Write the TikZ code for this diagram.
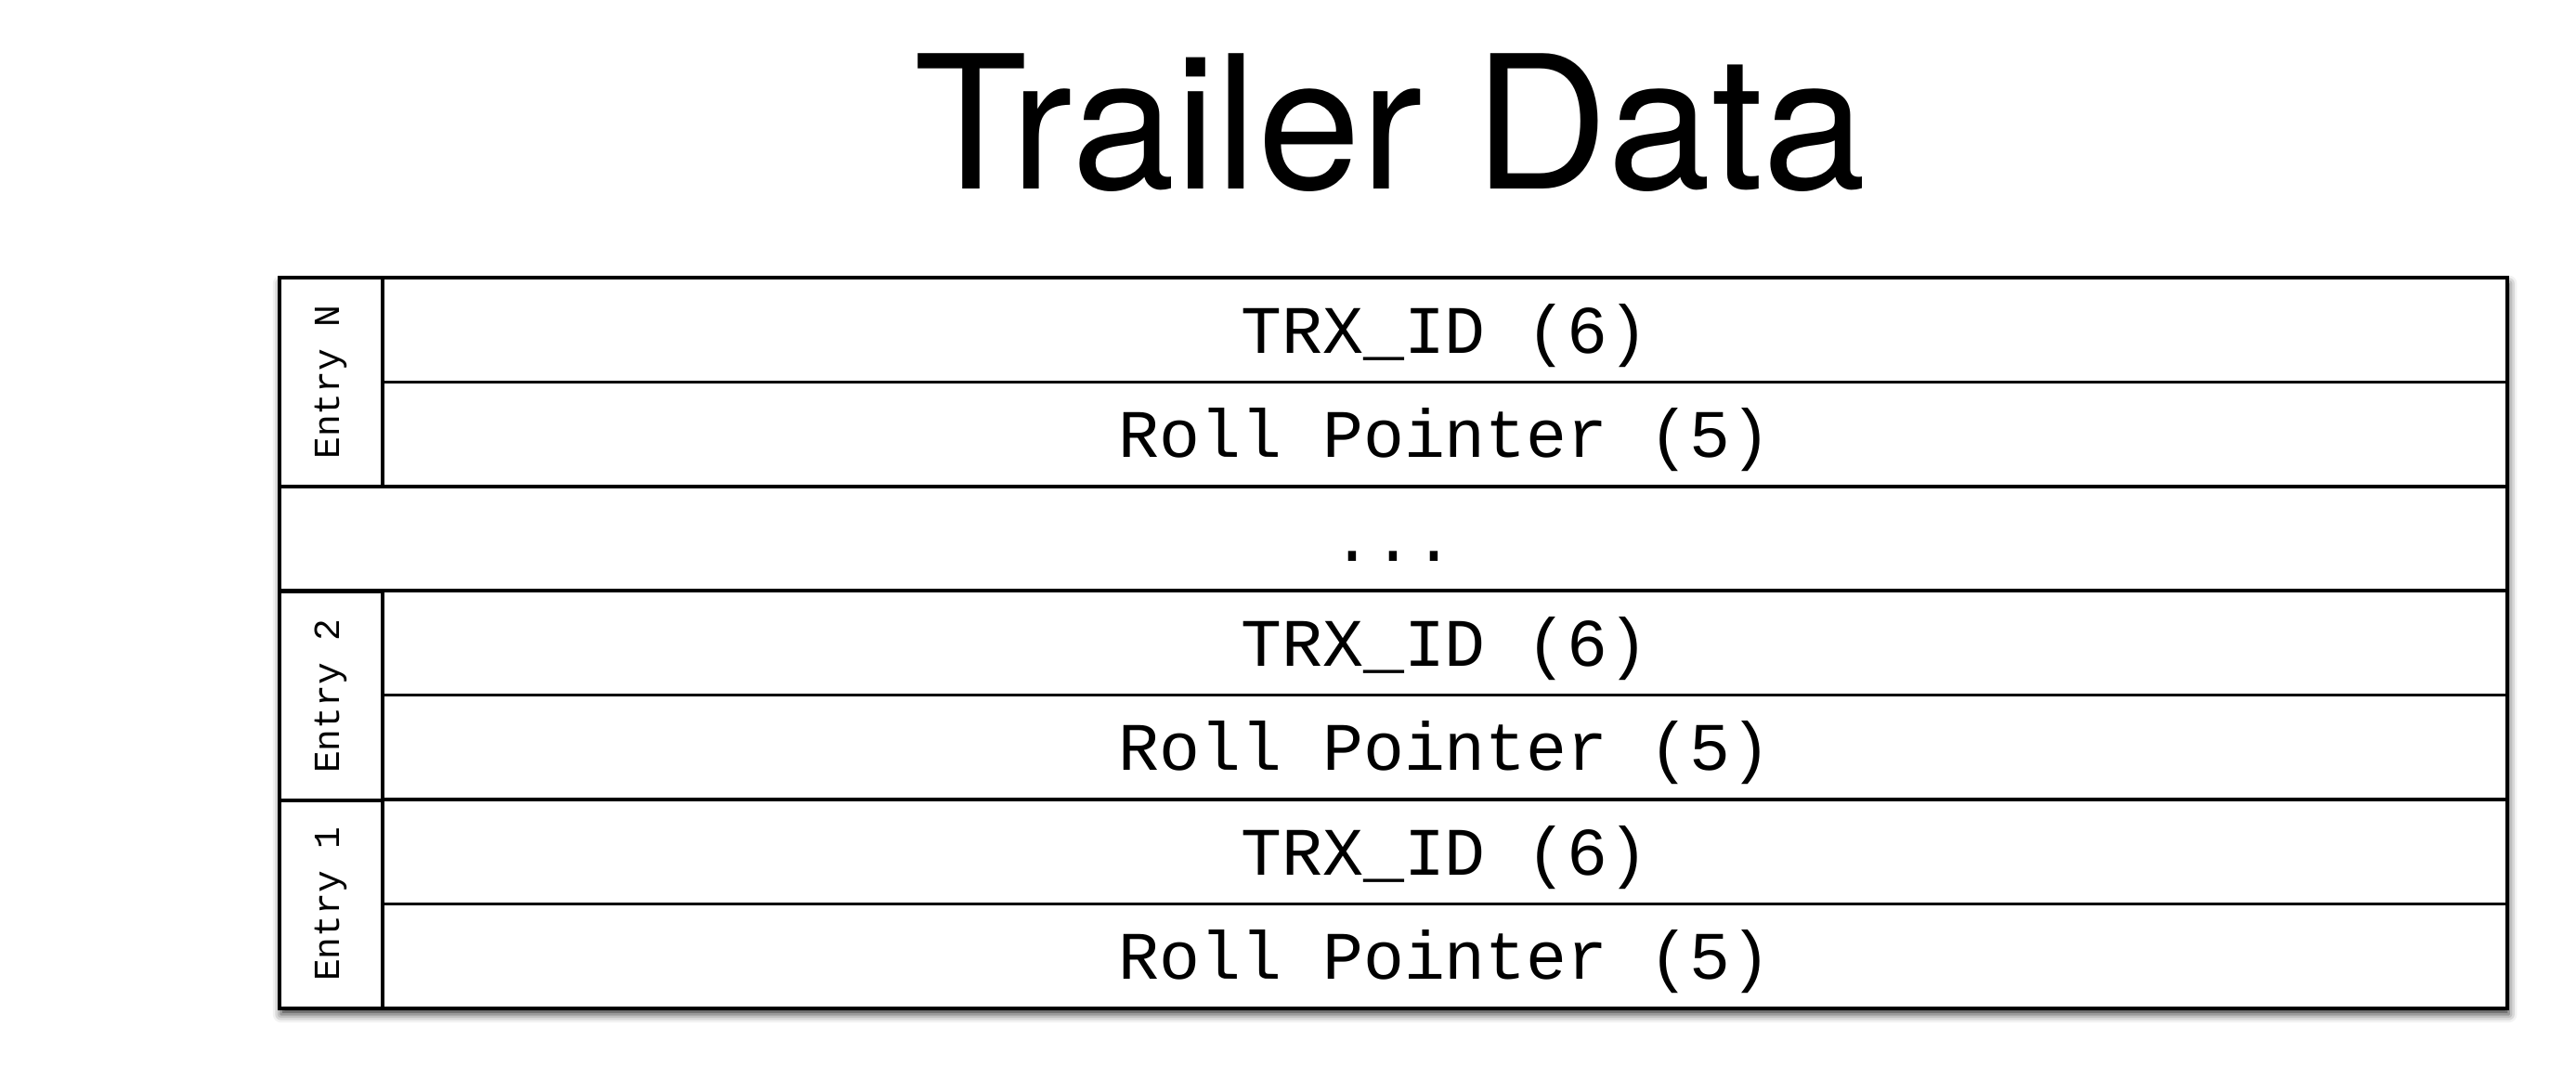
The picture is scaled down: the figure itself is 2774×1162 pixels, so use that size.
\documentclass[tikz,border=0pt]{standalone}
\usepackage{fontspec}
\usetikzlibrary{shadows.blur}
\newfontfamily\headfont{TeX Gyre Heros}
\newfontfamily\cellfont{Liberation Mono}
\begin{document}
\begin{tikzpicture}[x=0.25pt,y=-0.25pt,line width=0.9pt,
  field/.style={draw,inner sep=0pt,minimum width=572pt,minimum height=28.1pt,
    text height=12.5pt,text depth=-1pt,font=\cellfont\fontsize{18.3}{20}\selectfont},
  gap/.style={field,minimum width=599.75pt},
  tag/.style={draw,inner sep=0pt,rotate=90,minimum width=56.2pt,minimum height=27.75pt,
    font=\cellfont\fontsize{9.9}{11}\selectfont},
  title/.style={anchor=base,inner sep=0pt,font=\headfont\fontsize{50}{56}\selectfont}]
\useasboundingbox (0,0) rectangle (2774,1162);
\coordinate (NW) at (301,299);
\coordinate (SE) at (2700,1086);
\draw[line width=1.2pt,fill=white,blur shadow={shadow xshift=0.4pt,shadow yshift=-1.6pt,
  shadow blur radius=2.2pt,shadow opacity=80}] (NW) rectangle (SE);
\node[title] (head) at (1497,204) {Trailer Data};
\node[field] (idN) at (1556,355.2) {TRX\_ID (6)};
\node[field] (ptrN) at (1556,467.6) {Roll Pointer (5)};
\node[gap] (more) at (1500.5,580) {...};
\node[field] (id2) at (1556,692.4) {TRX\_ID (6)};
\node[field] (ptr2) at (1556,804.8) {Roll Pointer (5)};
\node[field] (id1) at (1556,917.2) {TRX\_ID (6)};
\node[field] (ptr1) at (1556,1029.6) {Roll Pointer (5)};
\node[tag] (entN) at (356.5,411.6) {Entry N};
\node[tag] (ent2) at (356.5,749.6) {Entry 2};
\node[tag] (ent1) at (356.5,973.8) {Entry 1};
\draw[line width=1.2pt] (NW) rectangle (SE);
\end{tikzpicture}
\end{document}
